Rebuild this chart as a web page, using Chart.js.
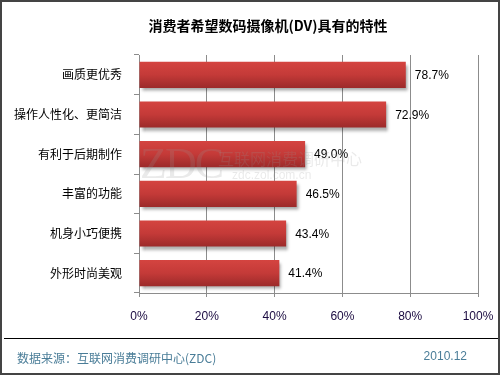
<!DOCTYPE html>
<html>
<head>
<meta charset="utf-8">
<script src="https://cdn.jsdelivr.net/npm/chart.js@4"></script>
<style>
  body { margin: 0; background: #fff; }
  #wrap { position: relative; width: 500px; height: 375px; overflow: hidden; font-family: "Noto Sans CJK SC", sans-serif; }
  #frame { position: absolute; left: 0; top: 0; width: 500px; height: 375px; box-sizing: border-box; border: 2px solid #444; pointer-events: none; }
  #title { position: absolute; left: 0; width: 536px; top: 14px; text-align: center; font-weight: bold; font-size: 14px; color: #000; line-height: 22px; }
  #rule { position: absolute; left: 4px; right: 0; top: 338px; height: 1px; background: #000; }
  #source { position: absolute; left: 17px; top: 349px; font-size: 12px; color: #4a7d98; }
  #date { position: absolute; right: 33px; top: 349px; font-size: 12px; color: #4a7d98; font-family: "Liberation Sans", Arial, sans-serif; }
  #wm { position: absolute; left: 140px; top: 138px; color: rgba(150,150,150,0.2); pointer-events: none; }
  #wm .big { font-family: "Liberation Serif", serif; font-size: 44px; letter-spacing: -2px; display: inline-block; }
  #wm .cn { position: absolute; left: 78px; top: 8px; font-size: 16px; white-space: nowrap; }
  #wm .url { position: absolute; left: 92px; top: 30px; font-size: 12px; white-space: nowrap; font-family: "Liberation Sans", sans-serif; }
</style>
</head>
<body>
<div id="wrap">
  <canvas id="chart" width="500" height="375"></canvas>
  <div id="wm"><span class="big">ZDC</span><span class="cn">互联网消费调研中心</span><span class="url">zdc.zol.com.cn</span></div>
  <div id="title">消费者希望数码摄像机(DV)具有的特性</div>
  <div id="rule"></div>
  <div id="source">数据来源：互联网消费调研中心(ZDC)</div>
  <div id="date">2010.12</div>
  <div id="frame"></div>
</div>
<script>
const categories = ["画质更优秀", "操作人性化、更简洁", "有利于后期制作", "丰富的功能", "机身小巧便携", "外形时尚美观"];
const values = [78.7, 72.9, 49.0, 46.5, 43.4, 41.4];
const xTicks = [0, 20, 40, 60, 80, 100];

// vertical gradient per bar, lighter on top
function barFill(c) {
    const chart = c.chart;
    const y = chart.scales.y;
    const center = y && c.dataIndex != null ? y.getPixelForValue(c.dataIndex) : NaN;
    if (!isFinite(center)) return "#c03838";
    const half = 13;
    const g = chart.ctx.createLinearGradient(0, center - half, 0, center + half);
    g.addColorStop(0, "#d44440");
    g.addColorStop(0.5, "#c43a38");
    g.addColorStop(1, "#9c2a2a");
    return g;
}

const barShadow = {
    id: "barShadow",
    beforeDatasetDraw(chart) {
        const ctx = chart.ctx;
        ctx.save();
        ctx.shadowColor = "rgba(0,0,0,0.35)";
        ctx.shadowOffsetX = 2;
        ctx.shadowOffsetY = 3;
        ctx.shadowBlur = 3;
    },
    afterDatasetDraw(chart) {
        chart.ctx.restore();
    },
};

const valueLabels = {
    id: "valueLabels",
    afterDatasetsDraw(chart) {
        const ctx = chart.ctx;
        const meta = chart.getDatasetMeta(0);
        ctx.save();
        ctx.font = "12px 'Liberation Sans', Arial, sans-serif";
        ctx.fillStyle = "#000";
        ctx.textAlign = "left";
        ctx.textBaseline = "middle";
        meta.data.forEach((bar, i) => {
            ctx.fillText(values[i].toFixed(1) + "%", bar.x + 9, bar.y + 1);
        });
        ctx.restore();
    },
};

new Chart(document.getElementById("chart"), {
    type: "bar",
    data: {
        labels: categories,
        datasets: [
            {
                data: values,
                backgroundColor: barFill,
                borderWidth: 0,
                categoryPercentage: 1,
                barPercentage: 0.66,
            },
        ],
    },
    options: {
        indexAxis: "y",
        responsive: false,
        animation: false,
        events: [],
        layout: { padding: { top: 55, left: 4, right: 22, bottom: 0 } },
        plugins: {
            legend: { display: false },
            tooltip: { enabled: false },
        },
        scales: {
            x: {
                min: 0,
                max: 100,
                afterBuildTicks: (scale) => {
                    scale.ticks = xTicks.map((v) => ({ value: v }));
                },
                afterFit: (scale) => {
                    scale.height = 82;
                    scale.paddingLeft = 0;
                    scale.paddingRight = 0;
                },
                grid: { color: "#8c8c8c", tickLength: 4, lineWidth: 1 },
                border: { color: "#8c8c8c" },
                ticks: {
                    padding: 12,
                    color: "#1a0a40",
                    font: { size: 12, family: "'Liberation Sans', Arial, sans-serif" },
                    callback: (v) => v + "%",
                },
            },
            y: {
                afterFit: (scale) => {
                    scale.width = 135;
                },
                grid: { drawOnChartArea: false, color: "#8c8c8c", tickLength: 5, offset: true },
                border: { color: "#8c8c8c" },
                ticks: {
                    padding: 12,
                    color: "#000",
                    font: { size: 12, family: "'Noto Sans CJK SC', sans-serif" },
                },
            },
        },
    },
    plugins: [barShadow, valueLabels],
});
</script>
</body>
</html>
